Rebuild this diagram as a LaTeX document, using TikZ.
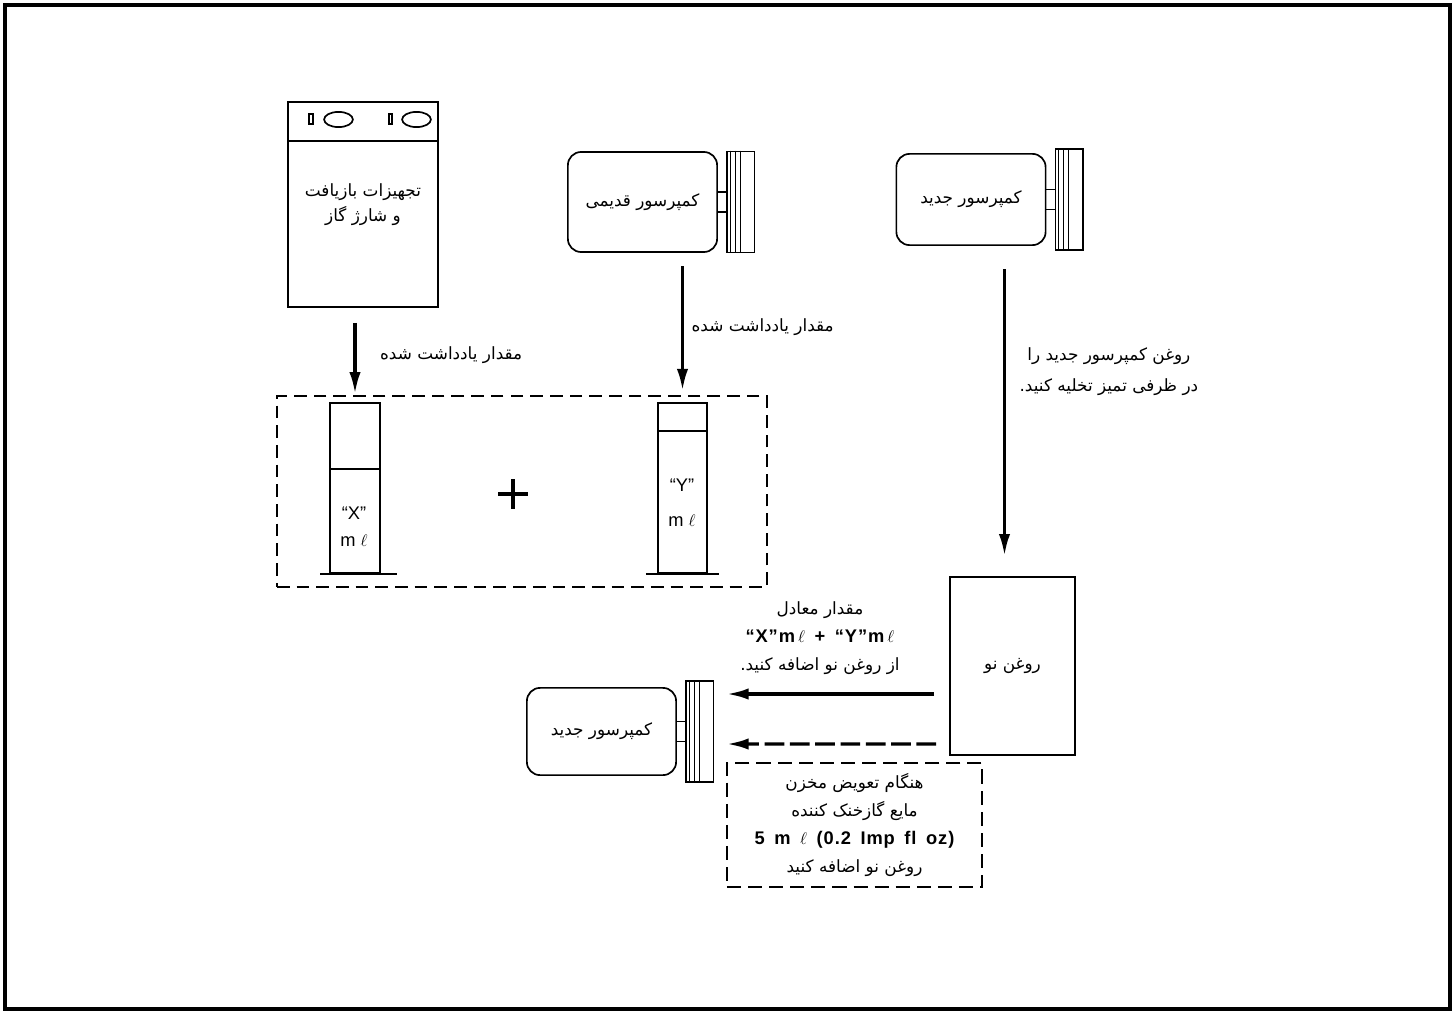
\documentclass[tikz,border=0pt]{standalone}
\usepackage{fontspec}
\setmainfont{Liberation Sans}
\newfontfamily\persa[Script=Arabic]{DejaVu Sans}
\newfontfamily\ancha[LetterSpace=5,WordSpace=1.6]{Liberation Sans}
\TeXXeTstate=1
\usepackage{tikz}
\usetikzlibrary{arrows.meta, positioning}
\newcommand{\rtl}[1]{\beginR#1\endR}

\begin{document}
\begin{tikzpicture}[
        x=0.025cm, y=-0.025cm,
        linea/.style={line width=1.2pt},
        bloque/.style={
            rectangle,
            draw=black,
            line width=1.2pt,
            align=center,
            inner sep=0pt,
            font=\persa\fontsize{12}{20}\selectfont
        },
        compresor/.style={
            bloque,
            rounded corners=0.33cm,
            minimum width=3.73cm
        },
        polea/.style={
            rectangle,
            draw=black,
            line width=1.1pt,
            inner sep=0pt,
            minimum width=0.68cm,
            minimum height=2.53cm
        },
        probeta/.style={
            rectangle,
            draw=black,
            line width=1.1pt,
            inner sep=0pt,
            minimum height=4.25cm
        },
        grupo/.style={
            rectangle,
            draw=black,
            line width=0.9pt,
            dash pattern=on 9pt off 5pt,
            inner sep=0pt
        },
        cifra/.style={
            font=\fontsize{13}{19}\selectfont,
            align=center,
            inner sep=0pt
        },
        flecha/.style={
            -{Latex[length=5.5mm,width=2.8mm]},
            line width=2.4pt
        },
        discontinua/.style={
            flecha,
            dash pattern=on 14pt off 4pt
        },
        etiqueta/.style={
            font=\persa\fontsize{12}{20}\selectfont,
            align=center,
            inner sep=1pt
        }
    ]

    \useasboundingbox (0,0) rectangle (1455,1012);
    \draw[line width=2.8pt] (5,5) rectangle (1450,1009);

    % equipo de recuperacion
    \node[bloque, minimum width=3.75cm, minimum height=5.12cm,
          font=\persa\fontsize{12}{17.5}\selectfont] (equipo) at (363,204.5) {
        \rtl{تجهیزات بازیافت}\\
        \rtl{و شارژ گاز}
    };
    \draw[linea] ([yshift=-1cm]equipo.north west) -- ([yshift=-1cm]equipo.north east);
    \draw[linea] (309,114) rectangle (313,124);
    \draw[linea] (338.5,119.5) ellipse [x radius=0.36cm, y radius=0.19cm];
    \draw[linea] (389,114) rectangle (392,124);
    \draw[linea] (416.5,119.5) ellipse [x radius=0.36cm, y radius=0.19cm];

    % compresores
    \node[compresor, minimum height=2.5cm] (viejo) at (642.5,202) {\rtl{کمپرسور قدیمی}};
    \node[compresor, minimum height=2.28cm] (nuevo) at (971,199.5) {\rtl{کمپرسور جدید}};
    \node[compresor, minimum height=2.18cm] (montaje) at (601.5,731.5) {\rtl{کمپرسور جدید}};

    \foreach \c in {viejo, nuevo, montaje} {
        \node[polea, right=0.21cm of \c.east] (polea\c) {};
        \draw[linea] ([yshift=0.25cm]\c.east) -- ([yshift=0.25cm]\c.east -| polea\c.west);
        \draw[linea] ([yshift=-0.25cm]\c.east) -- ([yshift=-0.25cm]\c.east -| polea\c.west);
        \foreach \d in {0.1, 0.22, 0.35}
            \draw[line width=0.8pt] ([xshift=\d cm]polea\c.north west) -- ([xshift=\d cm]polea\c.south west);
    }

    % probetas
    \node[grupo, minimum width=12.25cm, minimum height=4.78cm] (grupo) at (522,491.5) {};
    \node[probeta, minimum width=1.25cm] (probetaX) at (355,488) {};
    \node[probeta, minimum width=1.23cm] (probetaY) at (682.5,488) {};
    \draw[linea] ([yshift=-1.675cm]probetaX.north west) -- ([yshift=-1.675cm]probetaX.north east);
    \draw[linea] ([yshift=-0.725cm]probetaY.north west) -- ([yshift=-0.725cm]probetaY.north east);
    \draw[linea] ([xshift=-0.23cm]probetaX.south west) -- ([xshift=0.4cm]probetaX.south east);
    \draw[linea] ([xshift=-0.28cm]probetaY.south west) -- ([xshift=0.28cm]probetaY.south east);
    \node[cifra] (textoX) at (354,527) {“X”\\m $\ell$};
    \node[cifra, font=\fontsize{13}{25}\selectfont] (textoY) at (682,503) {“Y”\\m $\ell$};
    \draw[line width=2.2pt] (498,494) -- (528,494) (513,479) -- (513,509);

    % aceite nuevo y nota
    \node[bloque, minimum width=3.125cm, minimum height=4.45cm] (aceite) at (1012.5,666) {\rtl{روغن نو}};
    \node[bloque, line width=1.6pt, dash pattern=on 10pt off 5pt,
          minimum width=6.375cm, minimum height=3.1cm] (nota) at (854.5,825) {
        \rtl{هنگام تعویض مخزن}\\
        \rtl{مایع گازخنک کننده}\\
        {\ancha\bfseries\fontsize{13}{20}\selectfont 5 m $\ell$ (0.2 Imp fl oz)}\\
        \rtl{روغن نو اضافه کنید}
    };
    \coordinate (bajada) at ([xshift=-0.2cm]aceite.north);

    % flechas
    \draw[flecha, shorten <=0.38cm, shorten >=0.2cm] (equipo.south -| probetaX.north) --
        node[right=0.55cm, etiqueta] (dato1) {\rtl{مقدار یادداشت شده}}
        (probetaX.north);

    \draw[flecha, shorten <=0.33cm, shorten >=0.28cm] (viejo.south -| probetaY.north) --
        node[right=0.15cm, etiqueta] (dato2) {\rtl{مقدار یادداشت شده}}
        (probetaY.north);

    \draw[flecha, shorten <=0.58cm, shorten >=0.5cm] (bajada |- nuevo.south) --
        node[right=0.3cm, etiqueta, pos=0.38, font=\persa\fontsize{12}{22}\selectfont] (vaciado)
        {\rtl{روغن کمپرسور جدید را}\\\rtl{در ظرفی تمیز تخلیه کنید.}}
        (bajada);

    \draw[flecha] ([shift={(-15,28)}]aceite.west) --
        node[above=0.4cm, etiqueta, pos=0.55] (suma)
        {\rtl{مقدار معادل}\\{\ancha\bfseries\fontsize{13}{20}\selectfont “X”m\,$\ell$ + “Y”m\,$\ell$}\\\rtl{از روغن نو اضافه کنید.}}
        ([shift={(12.4,-37.5)}]poleamontaje.east);

    \draw[discontinua] ([shift={(-13,78)}]aceite.west) --
        ([shift={(12.4,12.5)}]poleamontaje.east);

    \end{tikzpicture}
\end{document}
